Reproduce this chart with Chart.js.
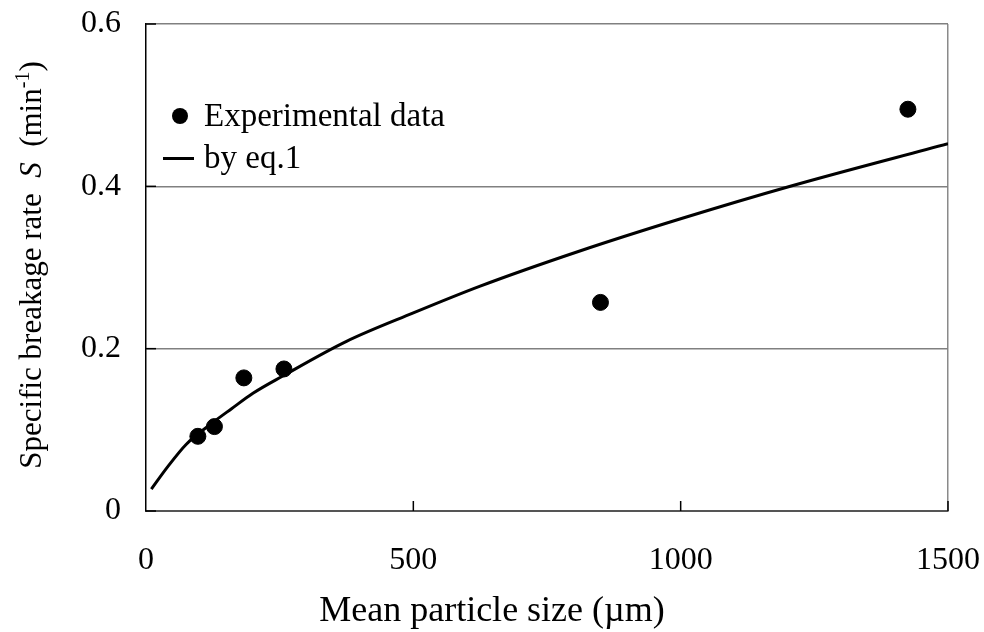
<!DOCTYPE html>
<html>
<head>
<meta charset="utf-8">
<script src="https://cdn.jsdelivr.net/npm/chart.js@4.4.1/dist/chart.umd.min.js"></script>
<style>
  html, body { margin: 0; padding: 0; background: #ffffff; }
  #wrap { width: 984px; height: 632px; position: relative; }
</style>
</head>
<body>
<div id="wrap"><canvas id="c" width="984" height="632"></canvas></div>
<script>
// ---- data ----
const expX = [97, 128, 183, 258, 850, 1425];
const expY = [0.092, 0.104, 0.164, 0.175, 0.257, 0.495];
const fitX = [10, 40, 75, 125, 160, 200, 255, 375, 500, 625, 810, 1000, 1210, 1500];
const fitY = [0.027, 0.054, 0.082, 0.109, 0.126, 0.145, 0.166, 0.209, 0.244, 0.277, 0.320, 0.360, 0.401, 0.4525];
const xTicks = [0, 500, 1000, 1500];
const yTicks = [0, 0.2, 0.4, 0.6];
const xTickLabels = ['0', '500', '1000', '1500'];
const yTickLabels = ['0', '0.2', '0.4', '0.6'];
const seriesLabels = ['Experimental data', 'by eq.1'];
const xTitle = 'Mean particle size (\u00B5m)';
const yTitleParts = ['Specific breakage rate  ', 'S', '  (min', '-1', ')'];

const FONT = '"Liberation Serif", "Times New Roman", serif';

const innerTicks = {
  id: 'innerTicks',
  beforeDatasetsDraw(chart) {
    const { ctx, chartArea: a, scales: { x, y } } = chart;
    ctx.save();
    ctx.strokeStyle = '#000';
    ctx.lineWidth = 1.5;
    xTicks.forEach(v => {
      if (v === 0) return;
      const px = x.getPixelForValue(v);
      ctx.beginPath(); ctx.moveTo(px, a.bottom); ctx.lineTo(px, a.bottom - 10); ctx.stroke();
    });
    yTicks.forEach(v => {
      const py = y.getPixelForValue(v);
      ctx.beginPath(); ctx.moveTo(a.left, py); ctx.lineTo(a.left + 10, py); ctx.stroke();
    });
    ctx.restore();
  }
};

const texts = {
  id: 'texts',
  afterDraw(chart) {
    const { ctx } = chart;
    ctx.save();
    ctx.fillStyle = '#000';
    // legend
    const ds = chart.data.datasets;
    ctx.font = '33px ' + FONT;
    ctx.textBaseline = 'middle';
    ctx.textAlign = 'left';
    ctx.beginPath(); ctx.arc(180, 116, 8, 0, Math.PI * 2); ctx.fill();
    ctx.fillText(ds[0].label, 204, 117);
    ctx.strokeStyle = '#000'; ctx.lineWidth = 3;
    ctx.beginPath(); ctx.moveTo(163, 158.5); ctx.lineTo(194, 158.5); ctx.stroke();
    ctx.fillText(ds[1].label, 204, 159);

    // x title
    ctx.textAlign = 'center';
    ctx.textBaseline = 'alphabetic';
    ctx.font = '36px ' + FONT;
    ctx.fillText(xTitle, 492, 621);

    // y title (rotated)
    ctx.translate(41, 265);
    ctx.rotate(-Math.PI / 2);
    const fReg = '31px ' + FONT, fIt = 'italic 31px ' + FONT, fSup = '20px ' + FONT;
    const fonts = [fReg, fIt, fReg, fSup, fReg];
    const rise = [0, 0, 0, -12, 0];
    const widths = yTitleParts.map((t, i) => { ctx.font = fonts[i]; return ctx.measureText(t).width; });
    const total = widths.reduce((s, w) => s + w, 0);
    let cx = -total / 2;
    ctx.textAlign = 'left';
    yTitleParts.forEach((t, i) => {
      ctx.font = fonts[i];
      ctx.fillText(t, cx, rise[i]);
      cx += widths[i];
    });
    ctx.restore();
  }
};

new Chart(document.getElementById('c'), {
  type: 'scatter',
  data: {
    datasets: [
      {
        label: seriesLabels[0],
        data: expX.map((v, i) => ({ x: v, y: expY[i] })),
        backgroundColor: '#000',
        borderColor: '#000',
        pointRadius: 8,
        pointHoverRadius: 8,
        showLine: false,
        order: 1
      },
      {
        label: seriesLabels[1],
        data: fitX.map((v, i) => ({ x: v, y: fitY[i] })),
        borderColor: '#000',
        backgroundColor: '#000',
        borderWidth: 3,
        pointRadius: 0,
        showLine: true,
        cubicInterpolationMode: 'monotone',
        order: 2
      }
    ]
  },
  options: {
    responsive: false,
    animation: false,
    devicePixelRatio: 1,
    layout: { padding: { top: 24, right: 36, left: 0, bottom: 0 } },
    plugins: { legend: { display: false }, tooltip: { enabled: false } },
    scales: {
      x: {
        type: 'linear', min: 0, max: 1500,
        afterBuildTicks: s => { s.ticks = xTicks.map(v => ({ value: v })); },
        afterFit: s => { s.height = 121; s.paddingLeft = 0; s.paddingRight = 0; },
        ticks: {
          font: { family: FONT, size: 32 }, color: '#000', padding: 30, maxRotation: 0,
          callback: v => xTickLabels[xTicks.indexOf(v)] ?? String(v)
        },
        grid: {
          drawTicks: false,
          color: c => (c.tick && c.tick.value === 1500) ? '#8a8a8a' : 'rgba(0,0,0,0)',
          lineWidth: 1.5
        },
        border: { display: true, color: '#555', width: 2 }
      },
      y: {
        type: 'linear', min: 0, max: 0.6,
        afterBuildTicks: s => { s.ticks = yTicks.map(v => ({ value: v })); },
        afterFit: s => { s.width = 146; s.paddingTop = 0; s.paddingBottom = 0; },
        ticks: {
          font: { family: FONT, size: 32 }, color: '#000', padding: 25,
          callback: v => { const i = yTicks.findIndex(t => Math.abs(t - v) < 1e-9); return i >= 0 ? yTickLabels[i] : String(v); }
        },
        grid: {
          drawTicks: false,
          color: c => (c.tick && c.tick.value === 0) ? 'rgba(0,0,0,0)' : '#808080',
          lineWidth: 1.5
        },
        border: { display: true, color: '#000', width: 1.5 }
      }
    }
  },
  plugins: [innerTicks, texts]
});
</script>
</body>
</html>
